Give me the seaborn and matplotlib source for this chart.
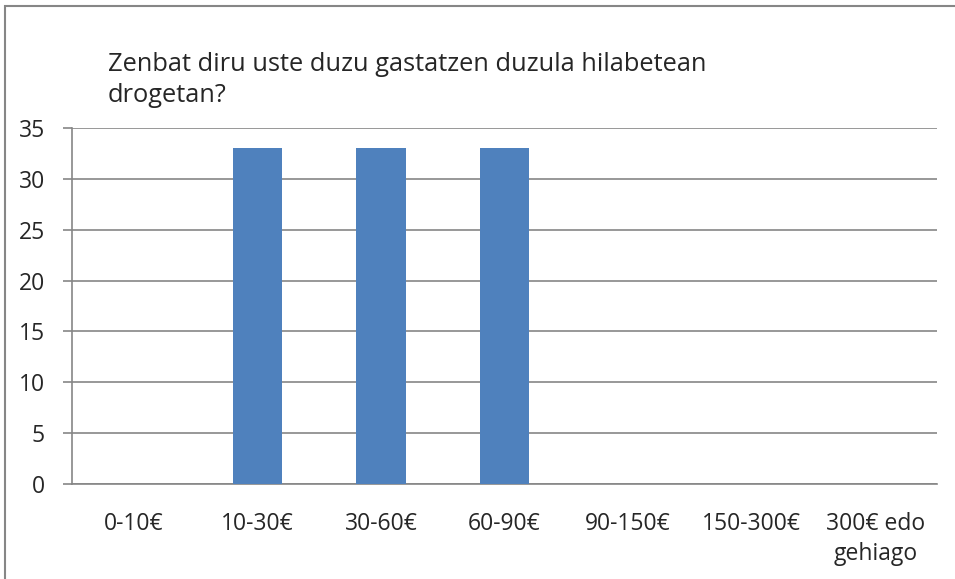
import matplotlib
matplotlib.use('Agg')
import matplotlib.pyplot as plt
import seaborn as sns
import pandas as pd
from matplotlib.patches import Rectangle

categories = ['0-10€', '10-30€', '30-60€', '60-90€', '90-150€', '150-300€', '300€ edo\ngehiago']
values = [0, 33, 33, 33, 0, 0, 0]
yticks = [0, 5, 10, 15, 20, 25, 30, 35]
title = 'Zenbat diru uste duzu gastatzen duzula hilabetean\ndrogetan?'

sns.set_style('white')
plt.rcParams['font.family'] = ['Open Sans', 'DejaVu Sans']
plt.rcParams['font.size'] = 16.5

df = pd.DataFrame({'cat': categories, 'val': values})

fig = plt.figure(figsize=(9.55, 5.79), dpi=100)
ax = fig.add_axes([72 / 955, 1 - 484 / 579, (937 - 72) / 955, (484 - 128) / 579])

sns.barplot(data=df, x='cat', y='val', color='#4F81BD', saturation=1,
            width=0.4, linewidth=0, ax=ax, zorder=3)

grid_c = '#868686'
ax.set_ylim(0, 35)
ax.set_xlim(-0.5, len(categories) - 0.5)
ax.set_yticks(yticks)
ax.yaxis.grid(True, color=grid_c, linewidth=1.2, zorder=0)
ax.set_axisbelow(True)
for s in ['top', 'right']:
    ax.spines[s].set_visible(False)
for s in ['left', 'bottom']:
    ax.spines[s].set_color(grid_c)
    ax.spines[s].set_linewidth(1.2)

ax.set_xticks(range(len(categories)))
ax.set_xticklabels(categories, linespacing=1.35)
ax.tick_params(axis='x', length=0, pad=20)
ax.set_xticks([i - 0.5 for i in range(len(categories) + 1)], minor=True)
ax.tick_params(axis='x', which='minor', length=7, color=grid_c, width=1.2, direction='out')
ax.tick_params(axis='y', length=6.5, color=grid_c, width=1.2, pad=13, left=True)
ax.set_xlabel('')
ax.set_ylabel('')

fig.text(108 / 955, 1 - 80 / 579, title, ha='left', va='center', fontsize=18.3,
         linespacing=1.35)

fig.patches.append(Rectangle((5 / 955, -0.1), 1.1, 1 - 6 / 579 + 0.1,
                             transform=fig.transFigure, fill=False,
                             edgecolor='#868686', linewidth=1.5))

fig.savefig('out.png', dpi=100)
